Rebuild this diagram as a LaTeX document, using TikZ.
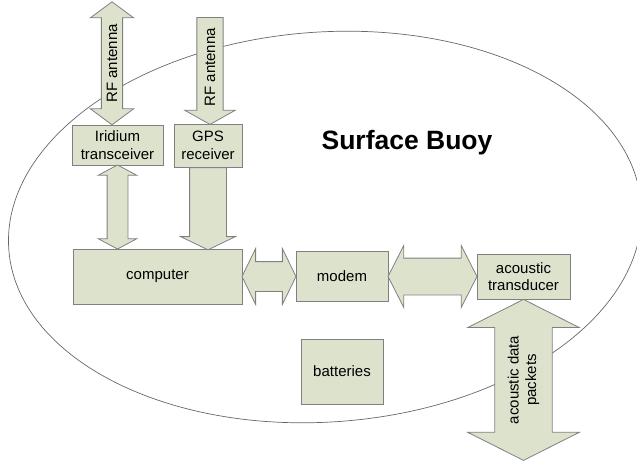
\documentclass[tikz,border=0pt]{standalone}
\usepackage{fontspec}
\setmainfont{Liberation Sans}
\usetikzlibrary{shapes.arrows,positioning,calc}
\definecolor{sage}{RGB}{221,226,205}
\definecolor{rim}{RGB}{128,128,128}

\begin{document}
\begin{tikzpicture}[x=1pt,y=-1pt,on grid,
  box/.style={draw=rim,fill=sage,line width=0.8pt,align=center,inner sep=0pt,font=\fontsize{15}{17.5}\selectfont},
  dbl/.style={draw=rim,fill=sage,line width=0.8pt,double arrow,inner xsep=0pt,align=center,font=\fontsize{15}{17.5}\selectfont},
  sgl/.style={draw=rim,fill=sage,line width=0.8pt,single arrow,inner xsep=0pt,align=center,font=\fontsize{15}{17.5}\selectfont}]
  \useasboundingbox (0,0) rectangle (637,461);
  \draw[rim!80!black,line width=0.7pt,rotate around={4:(325,227)}] (325,227) ellipse [x radius=317, y radius=195];
  \node[box,minimum width=169pt,minimum height=55pt] (comp) at (157.5,276.5) {computer};
  \node[box,minimum width=92pt,minimum height=50pt] (modem) [right=184.5pt of comp] {modem};
  \node[box,minimum width=93pt,minimum height=45pt] (acou) [right=181.5pt of modem] {acoustic\\transducer};
  \node[box,minimum width=82pt,minimum height=65pt] (batt) [below=95pt of modem] {batteries};
  \node[box,minimum width=91pt,minimum height=40pt] (irid) [above left=131.5pt and 40pt of comp] {Iridium\\transceiver};
  \node[box,minimum width=68pt,minimum height=43pt] (gps) [above right=131pt and 50.5pt of comp] {GPS\\receiver};
  \node[font=\fontsize{26.5}{30}\selectfont\bfseries,anchor=base] (title) at (407,149) {Surface Buoy};
  \coordinate (sky1) at (112,2);
  \coordinate (sky2) at (210,17);
  \coordinate (sea) at ([yshift=-161pt]acou.south);
  \node[dbl,rotate=90,minimum height=123pt,inner ysep=5pt,double arrow head extend=11pt,double arrow tip angle=107]
    (rf1) at ($(sky1)!.5!(sky1 |- irid.north)$) {RF antenna};
  \node[sgl,rotate=90,shape border rotate=180,anchor=tail,minimum height=107pt,inner ysep=7.5pt,single arrow head extend=12pt,single arrow tip angle=121.5]
    (rf2) at (sky2) {RF antenna};
  \node[dbl,rotate=90,minimum height=84pt,inner ysep=10pt,double arrow head extend=9pt,double arrow tip angle=124]
    (link1) at ($(irid.south)!.5!(irid.south |- comp.north)$) {};
  \node[sgl,rotate=90,shape border rotate=180,anchor=tail,minimum height=82pt,inner ysep=18pt,single arrow head extend=9pt,single arrow tip angle=128.6]
    (link2) at (gps.south) {};
  \node[dbl,minimum height=54pt,inner ysep=14.5pt,double arrow head extend=13pt,double arrow tip angle=128]
    (link3) at ($(comp.east)!.5!(modem.west)$) {};
  \node[dbl,minimum height=89pt,inner ysep=18pt,double arrow head extend=12.5pt,double arrow tip angle=126]
    (link4) at ($(modem.east)!.5!(acou.west)$) {};
  \node[dbl,rotate=90,minimum height=161pt,inner ysep=12.6pt,double arrow head extend=27pt,double arrow tip angle=126.5]
    (link5) at ($(acou.south)!.5!(sea)$) {acoustic data\\packets};
\end{tikzpicture}
\end{document}
